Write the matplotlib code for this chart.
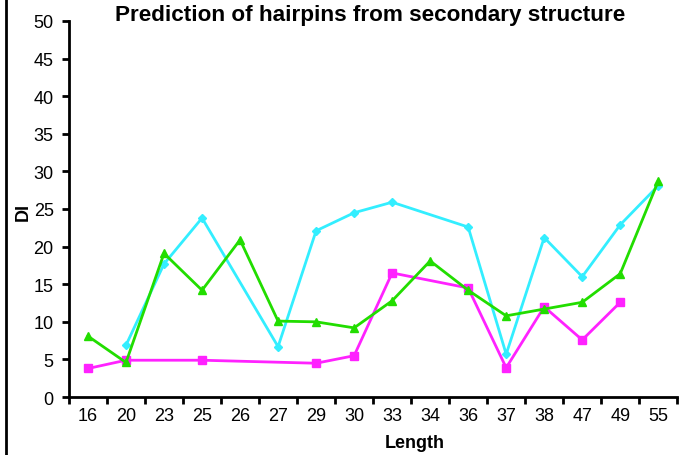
import matplotlib.pyplot as plt
import numpy as np

plt.rcParams['font.family'] = ['Liberation Sans', 'DejaVu Sans']

lengths = ["16", "20", "23", "25", "26", "27", "29", "30", "33", "34", "36", "37", "38", "47", "49", "55"]
nan = np.nan
cyan_vals = [nan, 6.9, 17.7, 23.8, nan, 6.7, 22.1, 24.5, 25.9, nan, 22.6, 5.7, 21.2, 16.0, 22.9, 28.1]
green_vals = [8.1, 4.6, 19.1, 14.2, 20.9, 10.1, 10.0, 9.2, 12.8, 18.1, 14.2, 10.8, 11.7, 12.6, 16.4, 28.7]
magenta_vals = [3.8, 4.9, nan, 4.9, nan, nan, 4.5, 5.5, 16.5, nan, 14.5, 3.9, 12.0, 7.6, 12.6, nan]

fig = plt.figure(figsize=(6.85, 4.56), dpi=100)
ax = fig.add_axes([0.1007, 0.127, 0.888, 0.825])

def plot_series(vals, color, marker, ms):
	x = [i for i, v in enumerate(vals) if not np.isnan(v)]
	y = [v for v in vals if not np.isnan(v)]
	ax.plot(x, y, color=color, marker=marker, markersize=ms, linewidth=2)

plot_series(cyan_vals, "#33EEFF", "D", 4)
plot_series(magenta_vals, "#FF22FF", "s", 6)
plot_series(green_vals, "#22DD00", "^", 6)

ax.set_xlim(-0.5, len(lengths) - 0.5)
ax.set_ylim(0, 50)
ax.set_yticks(np.arange(0, 51, 5))
ax.set_xticks(np.arange(-0.5, len(lengths), 1))
ax.set_xticklabels([])
ax.set_xticks(np.arange(len(lengths)), minor=True)
ax.set_xticklabels(lengths, minor=True)
ax.tick_params(axis="x", which="minor", length=0, pad=7, labelsize=13)
ax.tick_params(axis="x", which="major", length=5, width=2, direction="out")
ax.tick_params(axis="y", length=5, width=2, direction="out", labelsize=13, pad=6)

ax.spines["top"].set_visible(False)
ax.spines["right"].set_visible(False)
ax.spines["left"].set_linewidth(2)
ax.spines["bottom"].set_linewidth(2)

fig.text(0.54, 0.967, "Prediction of hairpins from secondary structure", fontsize=16.2,
	fontweight="bold", ha="center", va="center")
ax.set_xlabel("Length", fontsize=13, fontweight="bold")
ax.set_ylabel("DI", fontsize=13, fontweight="bold")
ax.xaxis.set_label_coords(0.569, -0.098)
ax.yaxis.set_label_coords(-0.062, 0.495)

fig.add_artist(plt.Line2D([0.009, 0.009], [0, 1], color="black", linewidth=2, transform=fig.transFigure))

plt.savefig("out.png", dpi=100)
